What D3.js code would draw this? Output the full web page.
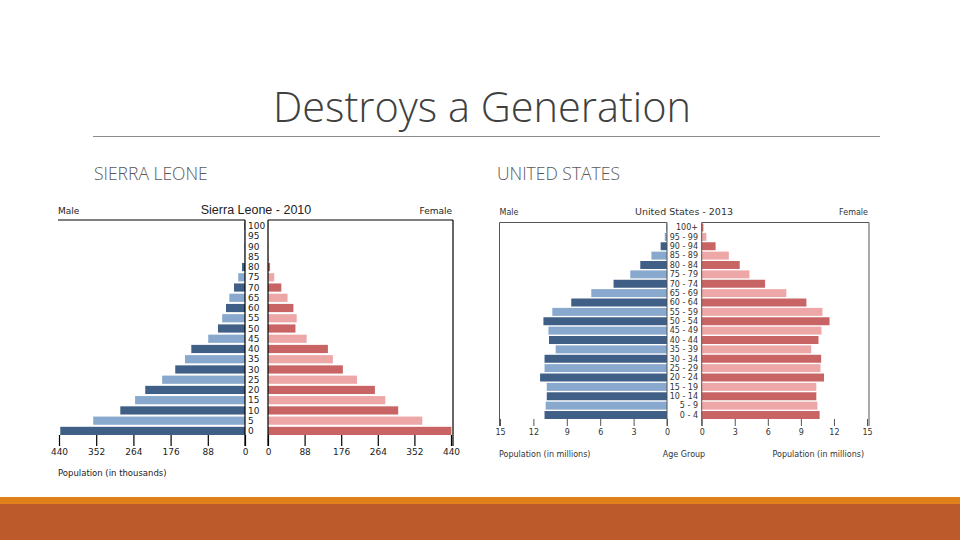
<!DOCTYPE html>
<html>
<head>
<meta charset="utf-8">
<script src="https://cdn.jsdelivr.net/npm/d3@7"></script>
<style>
  body { margin: 0; background: #fff; }
  svg { display: block; }
</style>
</head>
<body>
<svg id="chart" width="960" height="540"></svg>
<script>
// age bands, bottom (youngest) to top (oldest)
var slAges = ['0','5','10','15','20','25','30','35','40','45','50','55','60','65','70','75','80','85','90','95','100'];
var slMale = [437, 359, 295, 260, 236, 196, 165, 142, 127, 87, 64, 54, 45, 37, 26, 16, 7, 1, 1, 1, 1.5];
var slFemale = [441, 371, 313, 282, 257, 214, 180, 156, 144, 93, 66, 69, 61, 47, 32, 15, 5, 1, 0.5, 0.5, 0.5];
var slTicks = [0, 88, 176, 264, 352, 440];

var usAges = ['0 - 4','5 - 9','10 - 14','15 - 19','20 - 24','25 - 29','30 - 34','35 - 39','40 - 44','45 - 49',
  '50 - 54','55 - 59','60 - 64','65 - 69','70 - 74','75 - 79','80 - 84','85 - 89','90 - 94','95 - 99','100+'];
var usMale = [11.0, 10.9, 10.8, 10.8, 11.4, 11.0, 11.0, 10.0, 10.6, 10.65, 11.1, 10.3, 8.6, 6.8, 4.8, 3.3, 2.4, 1.4, 0.57, 0.2, 0.06];
var usFemale = [10.7, 10.5, 10.4, 10.4, 11.1, 10.78, 10.84, 9.94, 10.6, 10.87, 11.6, 10.96, 9.5, 7.68, 5.75, 4.33, 3.45, 2.46, 1.26, 0.42, 0.15];
var usTicks = [0, 3, 6, 9, 12, 15];

var maleDark = '#3f5f86', maleLight = '#88a8cd';
var femDark = '#c86464', femLight = '#eea7a7';

var svg = d3.select('#chart');

// slide chrome
svg.append('rect').attr('x', 0).attr('y', 497).attr('width', 960).attr('height', 7).attr('fill', '#e0801a');
svg.append('rect').attr('x', 0).attr('y', 504).attr('width', 960).attr('height', 36).attr('fill', '#bd5a2c');

svg.append('text')
  .attr('x', 482).attr('y', 122)
  .attr('text-anchor', 'middle')
  .attr('font-family', '"Open Sans", sans-serif')
  .attr('font-weight', 300)
  .attr('font-size', 41.5)
  .attr('fill', '#404040')
  .text('Destroys a Generation');
svg.append('line').attr('x1', 93).attr('x2', 880).attr('y1', 136.5).attr('y2', 136.5)
  .attr('stroke', '#8c8c8c').attr('stroke-width', 1);

[['SIERRA LEONE', 94], ['UNITED STATES', 497]].forEach(function(h) {
  svg.append('text')
    .attr('x', h[1]).attr('y', 180)
    .attr('font-family', '"Open Sans", sans-serif')
    .attr('font-weight', 300)
    .attr('font-size', 17.5)
    .attr('fill', '#595959')
    .text(h[0]);
});

var drawPyramid = function(c) {
  var g = svg.append('g');
  var xl = d3.scaleLinear().domain([0, c.max]).range([c.lZero, c.lEnd]);
  var xr = d3.scaleLinear().domain([0, c.max]).range([c.rZero, c.rEnd]);
  var y = d3.scaleBand().domain(c.ages.slice().reverse()).range([c.top, c.bottom]).paddingInner(c.pad);

  var rows = c.ages.map(function(a, i) { return { age: a, m: c.male[i], f: c.female[i], i: i }; });

  g.selectAll('.male').data(rows).enter().append('rect')
    .attr('class', 'male')
    .attr('x', function(d) { return xl(d.m); })
    .attr('y', function(d) { return y(d.age); })
    .attr('width', function(d) { return c.lZero - xl(d.m); })
    .attr('height', y.bandwidth())
    .attr('fill', function(d) { return d.i % 2 ? maleLight : maleDark; });

  g.selectAll('.female').data(rows).enter().append('rect')
    .attr('class', 'female')
    .attr('x', c.rZero)
    .attr('y', function(d) { return y(d.age); })
    .attr('width', function(d) { return xr(d.f) - c.rZero; })
    .attr('height', y.bandwidth())
    .attr('fill', function(d) { return d.i % 2 ? femLight : femDark; });

  // frame lines
  var lineBottom = c.axisY + c.tickLen;
  var seg = function(x1, y1, x2, y2) {
    g.append('line').attr('x1', x1).attr('y1', y1).attr('x2', x2).attr('y2', y2)
      .attr('stroke', c.lineColor).attr('stroke-width', c.lineWidth);
  };
  seg(c.frameL, c.frameTop, c.lZero, c.frameTop);
  seg(c.rZero, c.frameTop, c.frameR, c.frameTop);
  seg(c.lZero, c.frameTop, c.lZero, lineBottom);
  seg(c.rZero, c.frameTop, c.rZero, lineBottom);
  seg(c.frameR, c.frameTop, c.frameR, lineBottom);
  if (c.leftBorder) { seg(c.frameL, c.frameTop, c.frameL, lineBottom); }

  [xl, xr].forEach(function(sc) {
    var ax = g.append('g').attr('transform', 'translate(0,' + c.axisY + ')')
      .call(d3.axisBottom(sc).tickValues(c.ticks).tickSize(c.tickLen).tickPadding(c.tickPad).tickFormat(d3.format('d')));
    ax.select('.domain').remove();
    ax.selectAll('.tick line').attr('stroke', c.lineColor).attr('stroke-width', c.lineWidth);
    ax.selectAll('.tick text').attr('font-family', c.font).attr('font-size', c.fs).attr('fill', c.textColor);
  });

  g.selectAll('.agelbl').data(rows).enter().append('text')
    .attr('x', c.ageX)
    .attr('y', function(d) { return y(d.age) + y.bandwidth() / 2; })
    .attr('dy', '0.35em')
    .attr('text-anchor', c.ageAnchor)
    .attr('font-family', c.font)
    .attr('font-size', c.fs)
    .attr('fill', c.textColor)
    .text(function(d) { return d.age; });

  var label = function(txt, x, yy, anchor, size, font) {
    g.append('text').attr('x', x).attr('y', yy).attr('text-anchor', anchor)
      .attr('font-family', font || c.font)
      .attr('font-size', size).attr('fill', c.textColor).text(txt);
  };
  label('Male', c.frameL, c.headY, 'start', c.fs);
  label('Female', c.frameR - 1, c.headY, 'end', c.fs);
  label(c.title, c.titleX, c.headY, 'middle', c.titleFs, c.titleFont);
  c.footer.forEach(function(f) { label(f[0], f[1], c.footY, f[2], c.footFs); });
};

drawPyramid({
  ages: slAges, male: slMale, female: slFemale, ticks: slTicks, max: 440,
  lZero: 245, lEnd: 59, rZero: 268, rEnd: 451,
  top: 222, bottom: 435, pad: 0.2,
  frameTop: 220, frameL: 58, frameR: 453, leftBorder: false,
  axisY: 435, tickLen: 11, tickPad: 3,
  lineColor: '#000', lineWidth: 1.2, textColor: '#222', fs: 9, footFs: 8.5,
  font: '"DejaVu Sans", sans-serif',
  ageX: 248, ageAnchor: 'start',
  title: 'Sierra Leone - 2010', titleX: 256, titleFs: 12.5, headY: 214,
  titleFont: '"Liberation Sans", Arial, sans-serif',
  footY: 476, footer: [['Population (in thousands)', 58, 'start']]
});

drawPyramid({
  ages: usAges, male: usMale, female: usFemale, ticks: usTicks, max: 15,
  lZero: 667, lEnd: 500, rZero: 701.7, rEnd: 867,
  top: 223.5, bottom: 419, pad: 0.15,
  frameTop: 222.5, frameL: 499.5, frameR: 869, leftBorder: true,
  axisY: 419, tickLen: 7, tickPad: 3,
  lineColor: '#555', lineWidth: 1, textColor: '#333', fs: 8, footFs: 8,
  font: '"DejaVu Sans", sans-serif',
  ageX: 698, ageAnchor: 'end',
  title: 'United States - 2013', titleX: 684, titleFs: 9.5, headY: 215,
  footY: 457, footer: [['Population (in millions)', 499, 'start'], ['Age Group', 684, 'middle'], ['Population (in millions)', 864, 'end']]
});
</script>
</body>
</html>
